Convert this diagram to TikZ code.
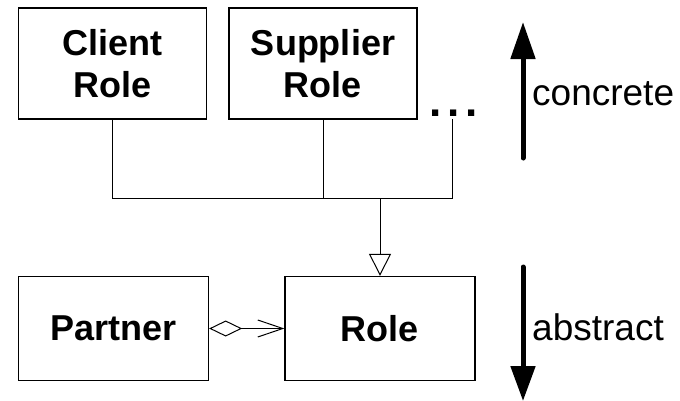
\documentclass[tikz,border=0pt]{standalone}
\usepackage{fontspec}
\setmainfont{Liberation Sans}
\usetikzlibrary{arrows.meta}

\begin{document}
\begin{tikzpicture}[x=1pt, y=-1pt,
  box/.style={draw, line width=1.3pt, minimum width=188pt, minimum height=111pt,
    align=center, inner sep=0pt, font=\fontsize{36}{42}\selectfont\bfseries},
  lowbox/.style={box, minimum width=190pt, minimum height=104pt},
  link/.style={line width=1pt},
  level/.style={line width=5pt, line cap=round},
  levellabel/.style={anchor=base west, inner sep=0pt, font=\fontsize{37}{44}\selectfont}]
\useasboundingbox (0,0) rectangle (680,400);
% concrete roles
\node[box] (client) at (112.5,63.5) {Client\\Role};
\node[box] (supplier) at (323,63.5) {Supplier\\Role};
\node[font=\fontsize{44}{50}\selectfont\bfseries, anchor=base, inner sep=0pt] (dots) at (454,116.5) {.\kern5.8pt.\kern5.8pt.};
\coordinate (more) at (452,119);
% abstract level
\node[lowbox] (partner) at (113.5,328.5) {Partner};
\node[lowbox] (role) at (380,328.5) {Role};
% generalization
\coordinate (join) at (380,198);
\draw[link] (client.south) |- (more |- join) -- (more);
\draw[link] (supplier.south) -- (supplier.south |- join);
\draw[link, -{Triangle[open, length=22pt, width=22pt]}] (join) -- (role.north);
% aggregation
\draw[link, {Diamond[open, length=33pt, width=16pt]}-{Straight Barb[length=25pt, width=17pt]}] (partner.east) -- (role.west);
% level arrows
\coordinate (uptail) at (523,158);
\coordinate (uptip) at (523,22);
\coordinate (downtail) at (523,267);
\coordinate (downtip) at (523,401);
\draw[level, -{Triangle[length=37pt, width=24pt]}] (uptail) -- (uptip);
\draw[level, -{Triangle[length=35pt, width=24pt]}] (downtail) -- (downtip);
\node[levellabel] (concrete) at (532,105) {concrete};
\node[levellabel] (abstract) at (532,340) {abstract};
\end{tikzpicture}
\end{document}
